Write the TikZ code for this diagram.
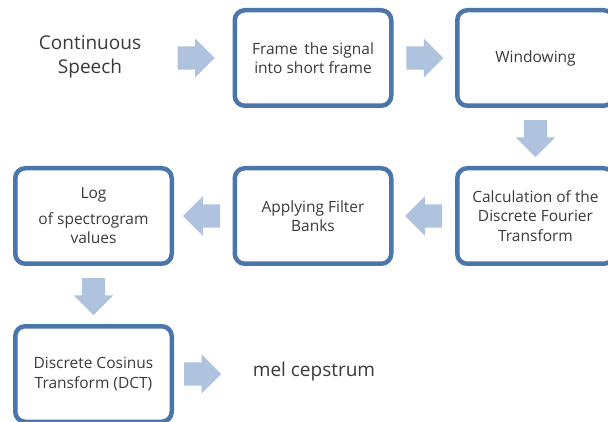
\documentclass[tikz,border=0pt]{standalone}
\usepackage{fontspec}
\setmainfont{Open Sans}
\usetikzlibrary{shapes.arrows, calc, positioning}

\definecolor{boxblue}{HTML}{4A76AC}
\definecolor{arrowblue}{HTML}{AFC2DE}
\definecolor{txtgray}{HTML}{3A3A3A}

\tikzset{
  stepbox/.style={draw=boxblue, line width=4.5pt, rounded corners=10pt, fill=white,
    minimum width=156.5pt, minimum height=95.5pt, align=center, text=txtgray,
    font=\fontsize{15.5}{19.5}\selectfont, inner sep=2pt},
  plaintext/.style={align=center, text=txtgray, font=\fontsize{19}{24}\selectfont},
  blockarrow/.style={single arrow, fill=arrowblue, draw=none, minimum height=37pt,
    single arrow head extend=8pt, inner xsep=0pt, inner ysep=11.5pt, anchor=tail}
}

\begin{document}
\begin{tikzpicture}[x=1pt, y=-1pt]
			\useasboundingbox (0,0) rectangle (608,422);
			\fill[white] (0,0) rectangle (608,422);
			\clip (0,0) rectangle (608,422);

			% top row
			\node[plaintext] (speech) at (90,57) {Continuous\\Speech};
			\node[stepbox] (frame) at (313,58) {Frame\, the signal\\into short frame};
			\node[stepbox] (window) at (535.5,58) {Windowing};

			% middle row
			\node[stepbox] (calc) at (535.5,216) {Calculation of the\\Discrete Fourier\\Transform};
			\node[stepbox] (apply) at (313,216) {Applying Filter\\Banks};
			\node[stepbox] (logv) at (93.5,216) {Log\\[6pt]of spectrogram\\values};

			% bottom row
			\node[stepbox] (dct) at (93.5,374) {Discrete Cosinus\\Transform (DCT)};
			\node[plaintext] (mel) at (314,372) {mel cepstrum};

			% block arrows (placed by their tail)
			\node[blockarrow] (a1) at ($(frame.west)+(-55,0)$) {};
			\node[blockarrow] (a2) at ($(frame.east)!0.5!(window.west)+(-18,0)$) {};
			\node[blockarrow, rotate=-90] (a3) at ($(window.south)!0.5!(calc.north)+(0,-17)$) {};
			\node[blockarrow, rotate=180] (a4) at ($(calc.west)!0.5!(apply.east)+(18,0)$) {};
			\node[blockarrow, rotate=180] (a5) at ($(apply.west)!0.5!(logv.east)+(17,0)$) {};
			\node[blockarrow, rotate=-90] (a6) at ($(logv.south)!0.5!(dct.north)+(0,-17)$) {};
			\node[blockarrow] (a7) at ($(dct.east)+(10,0)$) {};

		\end{tikzpicture}
\end{document}
